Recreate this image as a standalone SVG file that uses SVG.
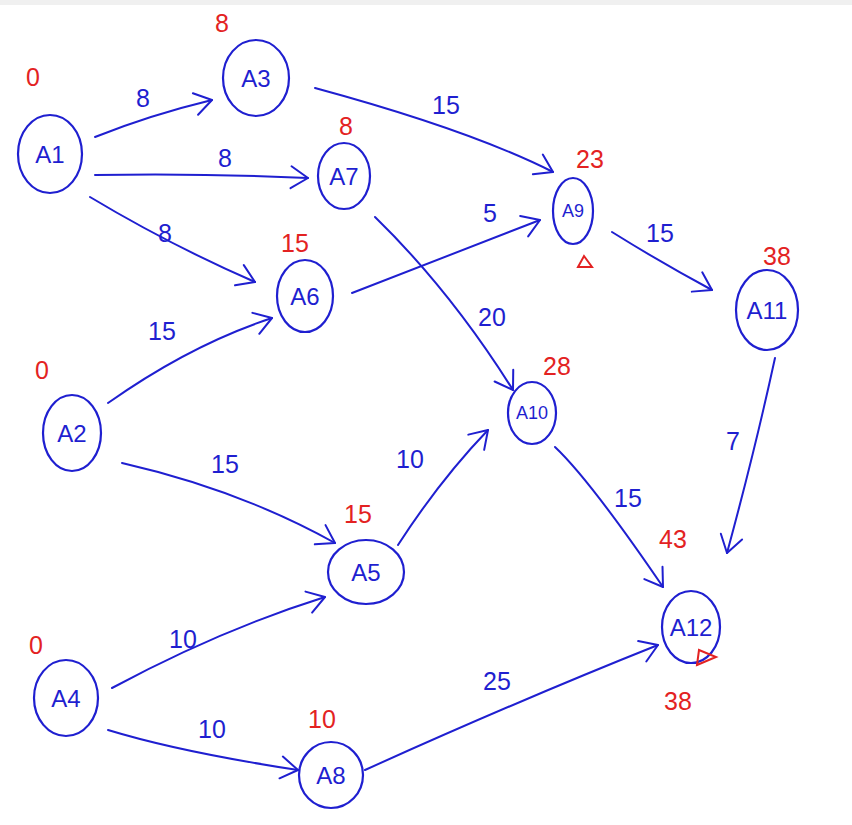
<svg xmlns="http://www.w3.org/2000/svg" width="852" height="825" viewBox="0 0 852 825">
<defs>
<marker id="arr" markerUnits="userSpaceOnUse" markerWidth="30" markerHeight="30" viewBox="-20 -15 25 30" refX="0" refY="0" orient="auto">
<path d="M-17,-11 L0,0 L-17,11" fill="none" stroke="#1f1fd0" stroke-width="2" stroke-linecap="round" stroke-linejoin="round"/>
</marker>
<style>
.n ellipse{fill:none;stroke:#1f1fd0;stroke-width:2.2}
.n text{font-family:"Liberation Sans",Arial,sans-serif;font-size:24px;fill:#1f1fd0;text-anchor:middle;dominant-baseline:central}
.e path{fill:none;stroke:#1f1fd0;stroke-width:2;stroke-linecap:round;marker-end:url(#arr)}
.w{font-family:"Liberation Sans",Arial,sans-serif;font-size:25px;fill:#1f1fd0;text-anchor:middle}
.r{font-family:"Liberation Sans",Arial,sans-serif;font-size:25px;fill:#e32222;text-anchor:middle}
.tri{fill:none;stroke:#e32222;stroke-width:2}
</style>
</defs>
<rect width="852" height="825" fill="#ffffff"/>
<rect width="852" height="5" fill="#f0f0f0"/>

<g id="connectors" class="e">
<path d="M95,137 Q150,115 212,100"/>
<path d="M95,175 Q200,173 308,178"/>
<path d="M90,197 Q170,245 255,282"/>
<path d="M315,88 Q470,130 553,172"/>
<path d="M352,293 Q450,255 540,220"/>
<path d="M375,217 Q450,290 513,390"/>
<path d="M612,232 Q660,262 712,290"/>
<path d="M108,403 Q190,345 272,318"/>
<path d="M122,463 Q240,490 335,543"/>
<path d="M398,545 Q440,480 488,430"/>
<path d="M555,447 Q590,480 663,587"/>
<path d="M775,358 Q755,450 727,553"/>
<path d="M112,688 Q220,630 325,597"/>
<path d="M108,730 Q180,752 298,770"/>
<path d="M365,770 Q520,700 658,645"/>
</g>

<g id="edge-labels">
<text class="w" x="143" y="107">8</text>
<text class="w" x="225" y="167">8</text>
<text class="w" x="165" y="242">8</text>
<text class="w" x="446" y="114">15</text>
<text class="w" x="490" y="222">5</text>
<text class="w" x="492" y="326">20</text>
<text class="w" x="660" y="242">15</text>
<text class="w" x="162" y="340">15</text>
<text class="w" x="225" y="473">15</text>
<text class="w" x="410" y="468">10</text>
<text class="w" x="628" y="507">15</text>
<text class="w" x="733" y="450">7</text>
<text class="w" x="183" y="648">10</text>
<text class="w" x="212" y="738">10</text>
<text class="w" x="497" y="690">25</text>
</g>

<g id="A1" class="n"><ellipse cx="50" cy="154" rx="32" ry="39"/><text x="50" y="154">A1</text></g>
<g id="A3" class="n"><ellipse cx="256" cy="78" rx="33" ry="38"/><text x="256" y="78">A3</text></g>
<g id="A7" class="n"><ellipse cx="344" cy="176" rx="26" ry="33"/><text x="344" y="176">A7</text></g>
<g id="A6" class="n"><ellipse cx="305" cy="296" rx="28" ry="36"/><text x="305" y="296">A6</text></g>
<g id="A9" class="n"><ellipse cx="573" cy="211" rx="20" ry="33"/><text x="573" y="211" style="font-size:18px">A9</text></g>
<g id="A11" class="n"><ellipse cx="767" cy="310" rx="31" ry="40"/><text x="767" y="310">A11</text></g>
<g id="A2" class="n"><ellipse cx="72" cy="433" rx="29" ry="38"/><text x="72" y="433">A2</text></g>
<g id="A10" class="n"><ellipse cx="532" cy="413" rx="24" ry="31"/><text x="532" y="413" style="font-size:18px">A10</text></g>
<g id="A5" class="n"><ellipse cx="366" cy="572" rx="38" ry="32"/><text x="366" y="572">A5</text></g>
<g id="A12" class="n"><ellipse cx="691" cy="627" rx="29" ry="36"/><text x="691" y="627">A12</text></g>
<g id="A4" class="n"><ellipse cx="66" cy="698" rx="32" ry="38"/><text x="66" y="698">A4</text></g>
<g id="A8" class="n"><ellipse cx="331" cy="775" rx="32" ry="33"/><text x="331" y="775">A8</text></g>

<g id="red-labels">
<text class="r" x="33" y="86">0</text>
<text class="r" x="222" y="32">8</text>
<text class="r" x="346" y="135">8</text>
<text class="r" x="295" y="252">15</text>
<text class="r" x="590" y="168">23</text>
<text class="r" x="777" y="265">38</text>
<text class="r" x="42" y="379">0</text>
<text class="r" x="358" y="523">15</text>
<text class="r" x="36" y="654">0</text>
<text class="r" x="322" y="728">10</text>
<text class="r" x="557" y="375">28</text>
<text class="r" x="673" y="548">43</text>
<text class="r" x="678" y="710">38</text>
<polygon class="tri" points="578,267 592,267 584,256"/>
<polygon class="tri" points="697,665 716,657 699,650"/>
</g>
</svg>
